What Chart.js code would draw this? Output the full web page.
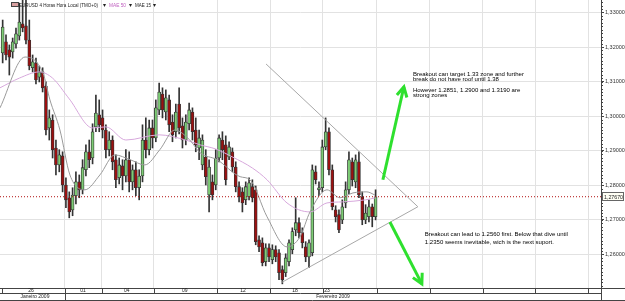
<!DOCTYPE html>
<html lang="pt">
<head>
<meta charset="UTF-8">
<title>EURUSD 4 Horas</title>
<script src="https://cdn.jsdelivr.net/npm/chart.js"></script>
<style>
  html, body { margin: 0; padding: 0; background: #fff; }
  canvas { display: block; }
</style>
</head>
<body>
<canvas id="eurusd" width="625" height="301"></canvas>
<script>
// candles (4h EURUSD)
const opens = [
  1.3183,1.3215,1.3192,1.3186,1.3209,1.3232,1.3267,1.3261,1.3220,1.3140,
  1.3154,1.3113,1.3128,1.3087,1.2966,1.2989,1.2908,1.2859,1.2885,1.2801,
  1.2764,1.2729,1.2770,1.2810,1.2787,1.2845,1.2897,1.2879,1.2969,1.3004,
  1.2995,1.2960,1.2903,1.2931,1.2874,1.2822,1.2856,1.2827,1.2874,1.2810,
  1.2845,1.2793,1.2827,1.2931,1.2903,1.2966,1.2937,1.3018,1.3064,1.3012,
  1.3047,1.2983,1.2955,1.3035,1.2972,1.2931,1.2978,1.3012,1.2960,1.2908,
  1.2859,1.2882,1.2772,1.2810,1.2801,1.2879,1.2931,1.2917,1.2882,1.2897,
  1.2853,1.2796,1.2781,1.2758,1.2767,1.2796,1.2787,1.2642,1.2634,1.2579,
  1.2619,1.2585,1.2614,1.2605,1.2556,1.2547,1.2579,1.2614,1.2671,1.2692,
  1.2663,1.2622,1.2593,1.2605,1.2839,1.2787,1.2793,1.2911,1.2955,1.2845,
  1.2729,1.2715,1.2700,1.2749,1.2787,1.2868,1.2810,1.2868,1.2767,1.2700,
  1.2709,1.2738,1.2709
];
const highs = [
  1.3278,1.3235,1.3206,1.3226,1.3255,1.3327,1.3340,1.3345,1.3278,1.3177,
  1.3168,1.3145,1.3140,1.3099,1.3018,1.3004,1.2931,1.2903,1.2897,1.2822,
  1.2781,1.2793,1.2839,1.2830,1.2874,1.2917,1.2931,1.2978,1.3061,1.3047,
  1.3018,1.2975,1.2955,1.2943,1.2888,1.2879,1.2874,1.2903,1.2897,1.2859,
  1.2868,1.2845,1.2975,1.2995,1.2989,1.2989,1.3047,1.3096,1.3082,1.3076,
  1.3061,1.3004,1.3035,1.3082,1.2995,1.3004,1.3038,1.3024,1.2995,1.2960,
  1.2946,1.2903,1.2874,1.2830,1.2903,1.2946,1.2955,1.2943,1.2926,1.2908,
  1.2868,1.2810,1.2793,1.2810,1.2822,1.2816,1.2798,1.2654,1.2648,1.2631,
  1.2631,1.2628,1.2625,1.2614,1.2567,1.2602,1.2642,1.2677,1.2764,1.2706,
  1.2677,1.2637,1.2642,1.2859,1.2856,1.2810,1.2931,1.2995,1.2966,1.2859,
  1.2741,1.2729,1.2758,1.2810,1.2897,1.2879,1.2888,1.2897,1.2781,1.2744,
  1.2758,1.2746,1.2787
];
const lows = [
  1.3154,1.3163,1.3119,1.3168,1.3197,1.3220,1.3244,1.3209,1.3134,1.3128,
  1.3093,1.3099,1.3070,1.2946,1.2931,1.2879,1.2830,1.2839,1.2781,1.2735,
  1.2706,1.2712,1.2746,1.2764,1.2775,1.2827,1.2851,1.2862,1.2955,1.2955,
  1.2937,1.2879,1.2885,1.2845,1.2793,1.2804,1.2787,1.2810,1.2781,1.2787,
  1.2770,1.2758,1.2810,1.2879,1.2888,1.2908,1.2926,1.3004,1.2995,1.2989,
  1.2955,1.2926,1.2937,1.2949,1.2908,1.2917,1.2960,1.2931,1.2897,1.2874,
  1.2845,1.2801,1.2723,1.2758,1.2787,1.2868,1.2874,1.2801,1.2874,1.2839,
  1.2781,1.2752,1.2723,1.2744,1.2758,1.2752,1.2628,1.2608,1.2567,1.2567,
  1.2579,1.2573,1.2579,1.2527,1.2515,1.2536,1.2567,1.2602,1.2654,1.2648,
  1.2619,1.2579,1.2562,1.2596,1.2804,1.2770,1.2781,1.2903,1.2830,1.2729,
  1.2694,1.2663,1.2689,1.2735,1.2775,1.2798,1.2793,1.2764,1.2686,1.2689,
  1.2694,1.2680,1.2700
];
const closes = [
  1.3258,1.3177,1.3171,1.3215,1.3238,1.3272,1.3255,1.3220,1.3145,1.3157,
  1.3105,1.3128,1.3082,1.2960,1.2995,1.2903,1.2859,1.2888,1.2801,1.2758,
  1.2723,1.2772,1.2810,1.2787,1.2851,1.2897,1.2874,1.2955,1.3009,1.2975,
  1.2960,1.2903,1.2931,1.2868,1.2816,1.2859,1.2827,1.2874,1.2810,1.2845,
  1.2793,1.2827,1.2931,1.2903,1.2966,1.2937,1.3024,1.3070,1.3018,1.3053,
  1.2975,1.2946,1.3012,1.2966,1.2931,1.2983,1.3018,1.2955,1.2917,1.2937,
  1.2931,1.2825,1.2853,1.2772,1.2879,1.2937,1.2903,1.2816,1.2911,1.2853,
  1.2796,1.2767,1.2749,1.2796,1.2807,1.2764,1.2637,1.2622,1.2576,1.2619,
  1.2593,1.2614,1.2593,1.2547,1.2527,1.2590,1.2634,1.2666,1.2692,1.2663,
  1.2634,1.2593,1.2634,1.2845,1.2816,1.2793,1.2911,1.2955,1.2845,1.2738,
  1.2709,1.2671,1.2738,1.2787,1.2874,1.2816,1.2874,1.2772,1.2700,1.2720,
  1.2738,1.2709,1.2767
];

// moving averages (x = candle index)
const ma50X = [-0.8, 5, 11, 15, 20, 27, 31, 37, 47, 55, 59.3, 64, 69, 75, 79.4, 85.4, 92.3, 97.4, 102, 109, 112];
const ma50Y = [1.3082,1.3110,1.3128,1.3110,1.3050,1.2966,1.2969,1.2931,1.2946,1.2931,1.2917,1.2905,1.2882,1.2850,1.2816,1.2749,1.2723,1.2749,1.2752,1.2758,1.2764];
const ma15X = [-0.8, 6.7, 12.1, 14.2, 17.2, 20.2, 24.7, 29.2, 33.7, 38.3, 42.7, 47.2, 51.7, 56.2, 59.3, 64.4, 71.3, 74.3, 79.4, 85.4, 89.3, 92.3, 97.4, 101.3, 105.2, 109.4, 111.8];
const ma15Y = [1.3024,1.3171,1.3125,1.3047,1.2960,1.2830,1.2787,1.2830,1.2888,1.2874,1.2859,1.2903,1.2960,1.2931,1.2894,1.2874,1.2825,1.2816,1.2709,1.2622,1.2651,1.2723,1.2787,1.2764,1.2778,1.2781,1.2772];

const lastPrice = 1.2767;

// drawn triangle and arrows (x = candle index, y = price)
const upperLineX = [79.1, 124.7], upperLineY = [1.3151, 1.2738];
const lowerLineX = [83.6, 124.7], lowerLineY = [1.2518, 1.2738];
const upArrowX = [114.2, 120.5], upArrowY = [1.2816, 1.3085];
const upHeadX = [118.4, 120.5, 121.4], upHeadY = [1.3061, 1.3085, 1.3054];
const downArrowX = [116.3, 125.9], downArrowY = [1.2694, 1.2515];
const downHeadX = [123.2, 125.9, 126.0], downHeadY = [1.2533, 1.2515, 1.2547];

// date axis
const sepPos = [18.7, 29.8, 45.4, 64.4, 80.3, 96.2, 112.4, 128.3, 144.2, 159.9, 175.8];
const dayLabels = ['26', '01', '04', '09', '12', '18', '23'];
const dayPos = [8.5, 24.1, 37.3, 54.7, 72.2, 87.8, 97.4];
const monthLabels = ['Janeiro 2009', 'Fevereiro 2009'];
const monthPos = [9.7, 99.2];
const monthSep = [18.7];

const notes = [
  { x: 123.2, y: 1.3122, text: 'Breakout can target 1.33 zone and further', w: 112 },
  { x: 123.2, y: 1.3106, text: 'break do not have roof until 1.38', w: 92 },
  { x: 123.2, y: 1.3074, text: 'However 1.2851, 1.2900 and 1.3190 are', w: 111 },
  { x: 123.2, y: 1.3059, text: 'strong zones', w: 35 },
  { x: 126.8, y: 1.2657, text: 'Breakout can lead to 1.2560 first. Below that dive until', w: 150 },
  { x: 126.8, y: 1.2636, text: '1.2350 seems inevitable, wich is the next suport.', w: 134 }
];

const UP = '#7dcc75', DOWN = '#9c1010', EDGE = '#333';
const GREEN = '#2ee02e';

const idx = opens.map((_, i) => i);
const pts = (xs, ys) => xs.map((x, k) => ({ x: x, y: ys[k] }));

const decor = {
  id: 'decor',
  afterDraw(chart) {
    const ctx = chart.ctx, xs = chart.scales.x, ys = chart.scales.y, a = chart.chartArea;
    ctx.save();
    const font = (s) => s + 'px "Liberation Sans", Arial, sans-serif';

    // minor ticks on price axis
    ctx.strokeStyle = '#444';
    ctx.lineWidth = 1;
    ctx.beginPath();
    for (let k = 1251; k <= 1333; k++) {
      const py = Math.round(ys.getPixelForValue(k / 1000)) + 0.5;
      ctx.moveTo(a.right, py);
      ctx.lineTo(a.right + 2, py);
    }
    ctx.stroke();

    // last price box
    const py = Math.round(ys.getPixelForValue(lastPrice));
    ctx.fillStyle = '#fffff4';
    ctx.fillRect(a.right + 1.5, py - 4.5, 21, 8);
    ctx.strokeStyle = '#666';
    ctx.strokeRect(a.right + 1.5, py - 4.5, 21, 8);
    ctx.fillStyle = '#222';
    ctx.font = font(5.5);
    ctx.textBaseline = 'middle';
    ctx.textAlign = 'left';
    ctx.fillText(lastPrice.toFixed(5).replace('.', ','), a.right + 3, py, 19);

    // date axis rows
    const y0 = a.bottom + 0.5, y1 = a.bottom + 5.5, y2 = chart.height - 0.5;
    ctx.strokeStyle = '#444';
    ctx.beginPath();
    ctx.moveTo(0, y0); ctx.lineTo(chart.width, y0);
    ctx.moveTo(0, y1); ctx.lineTo(a.right, y1);
    ctx.moveTo(0, y2); ctx.lineTo(chart.width, y2);
    ctx.moveTo(a.right + 0.5, y0); ctx.lineTo(a.right + 0.5, y2);
    ctx.moveTo(2.5, y0); ctx.lineTo(2.5, y1);
    sepPos.forEach(v => {
      const px = Math.round(xs.getPixelForValue(v)) + 0.5;
      ctx.moveTo(px, y0); ctx.lineTo(px, y1);
    });
    monthSep.forEach(v => {
      const px = Math.round(xs.getPixelForValue(v)) + 0.5;
      ctx.moveTo(px, y1); ctx.lineTo(px, y2);
    });
    ctx.stroke();

    ctx.fillStyle = '#222';
    ctx.font = font(5);
    ctx.textAlign = 'center';
    dayLabels.forEach((t, k) => ctx.fillText(t, xs.getPixelForValue(dayPos[k]), (y0 + y1) / 2));
    monthLabels.forEach((t, k) => ctx.fillText(t, xs.getPixelForValue(monthPos[k]), (y1 + y2) / 2));

    // header
    ctx.textAlign = 'left';
    ctx.fillStyle = '#d8a0a0';
    ctx.fillRect(11.5, 2.5, 7, 4);
    ctx.strokeStyle = '#444';
    ctx.strokeRect(11.5, 2.5, 7, 4);
    ctx.font = font(5.5);
    ctx.fillStyle = '#222';
    ctx.fillText('EURUSD 4 Horas Hora Local (TMO+0)', 19, 5, 79);
    ctx.fillText('\u25BE', 103, 5);
    ctx.fillStyle = '#c060c0';
    ctx.fillText('MAE 50', 109, 5, 17);
    ctx.fillStyle = '#222';
    ctx.fillText('\u25BE', 129, 5);
    ctx.fillText('MAE 15', 135, 5, 16);
    ctx.fillText('\u25BE', 153, 5);

    // notes
    ctx.fillStyle = '#000';
    ctx.font = font(6);
    notes.forEach(n => {
      ctx.fillText(n.text, xs.getPixelForValue(n.x), ys.getPixelForValue(n.y), n.w);
    });
    ctx.restore();
  }
};

const lineDs = (data, color, width, order, extra) => Object.assign({
  type: 'line', data: data, borderColor: color, borderWidth: width,
  pointRadius: 0, fill: false, order: order
}, extra || {});

const ctx = document.getElementById('eurusd').getContext('2d');
const chart = new Chart(ctx, {
  type: 'bar',
  data: {
    datasets: [
      {
        data: idx.map(i => ({ x: i, y: [lows[i], highs[i]] })),
        backgroundColor: EDGE, barThickness: 1, grouped: false, order: 10
      },
      {
        data: idx.map(i => ({ x: i, y: [opens[i], closes[i]] })),
        backgroundColor: idx.map(i => closes[i] >= opens[i] ? UP : DOWN),
        borderColor: EDGE, borderWidth: 0.8, borderSkipped: false,
        barThickness: 3, grouped: false, order: 9
      },
      lineDs(pts(ma50X, ma50Y), '#d7a8dc', 1, 6, { cubicInterpolationMode: 'monotone' }),
      lineDs(pts(ma15X, ma15Y), '#9a9a9a', 1, 5, { cubicInterpolationMode: 'monotone' }),
      lineDs([{ x: -0.8, y: lastPrice }, { x: 179.7, y: lastPrice }], '#b01010', 1, 4, { borderDash: [1, 2] }),
      lineDs(pts(upperLineX, upperLineY), '#a8a8a8', 1, 3),
      lineDs(pts(lowerLineX, lowerLineY), '#a8a8a8', 1, 3),
      lineDs(pts(upArrowX, upArrowY), GREEN, 3, 1),
      lineDs(pts(upHeadX, upHeadY), GREEN, 3, 1),
      lineDs(pts(downArrowX, downArrowY), GREEN, 3, 1),
      lineDs(pts(downHeadX, downHeadY), GREEN, 3, 1)
    ]
  },
  options: {
    responsive: false,
    animation: false,
    devicePixelRatio: 1,
    layout: { padding: 0 },
    plugins: { legend: { display: false }, tooltip: { enabled: false } },
    scales: {
      x: {
        type: 'linear', min: -0.8, max: 179.7, offset: false,
        grid: { color: '#e2e2e2', drawTicks: false, offset: false },
        border: { color: '#444' },
        ticks: { display: false },
        afterBuildTicks: (s) => { s.ticks = sepPos.map(v => ({ value: v })); },
        afterFit: (s) => { s.height = 13; s.paddingLeft = 0; s.paddingRight = 0; }
      },
      y: {
        position: 'right', min: 1.2503, max: 1.3336,
        grid: { color: '#e2e2e2', tickLength: 3, tickColor: '#444' },
        border: { color: '#444' },
        ticks: {
          stepSize: 0.01, includeBounds: false, padding: 1, color: '#333',
          font: { size: 5.5, family: 'Liberation Sans' },
          callback: (v) => v.toFixed(5).replace('.', ',')
        },
        afterFit: (s) => { s.width = 24; s.paddingTop = 0; s.paddingBottom = 0; }
      }
    }
  },
  plugins: [decor]
});
</script>
</body>
</html>
